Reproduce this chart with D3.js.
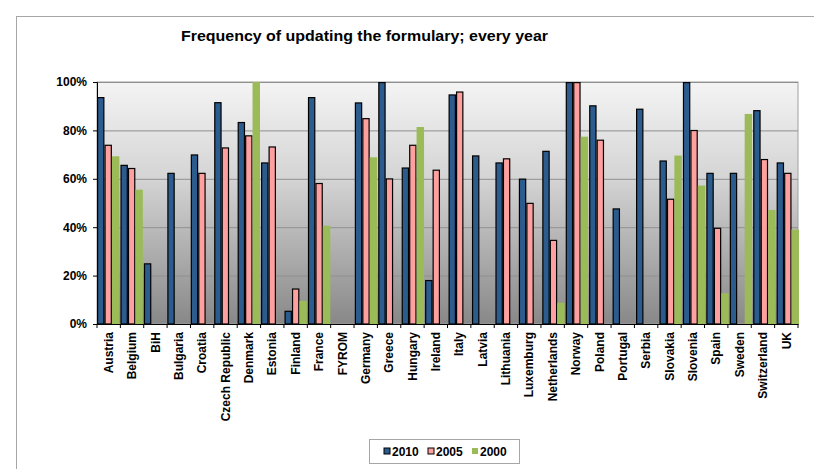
<!DOCTYPE html>
<html><head><meta charset="utf-8">
<script src="https://cdn.jsdelivr.net/npm/d3@7"></script>
<style>
body{margin:0;background:#fff;}
text{font-family:"Liberation Sans",Arial,sans-serif;}
</style></head>
<body><svg id="c" width="814" height="469"></svg>
<script>
const categories = ["Austria","Belgium","BiH","Bulgaria","Croatia","Czech Republic","Denmark","Estonia","Finland","France","FYROM","Germany","Greece","Hungary","Ireland","Italy","Latvia","Lithuania","Luxemburg","Netherlands","Norway","Poland","Portugal","Serbia","Slovakia","Slovenia","Spain","Sweden","Switzerland","UK"];
const v2010 = [93.8,65.8,25.1,62.5,70.1,91.7,83.5,66.8,5.5,93.8,null,91.6,100,64.7,18.2,94.9,69.7,66.8,60.1,71.6,100,90.4,47.8,89.0,67.6,100,62.5,62.5,88.4,66.8];
const v2005 = [74.1,64.5,null,null,62.5,73.0,78.0,73.4,14.7,58.3,null,85.1,60.2,74.1,63.8,96.1,null,68.5,50.1,34.8,100,76.2,null,null,51.8,80.2,39.8,null,68.2,62.5];
const v2000 = [69.3,55.5,null,null,null,null,100,null,9.6,40.6,null,68.9,null,81.4,null,null,null,null,null,8.8,77.4,null,null,null,69.6,57.2,12.7,86.8,47.1,39.0];
const seriesNames = ["2010","2005","2000"];
const yTicks = [0,20,40,60,80,100];
</script>
<script>
const svg = d3.select("#c");
const colors = {"2010":"#2C5B8E","2005":"#FFA0A0","2000":"#9BBB59"};
const seriesVals = {"2010":v2010,"2005":v2005,"2000":v2000};
const L=97, R=798, T=82, B=324;
const FONT = "'Liberation Sans',Arial,sans-serif";

// outer frame
svg.append("rect").attr("x",16.5).attr("y",16.5).attr("width",830).attr("height",480)
  .attr("fill","#fff").attr("stroke","#a6a6a6").attr("stroke-width",1);

svg.append("text").attr("x",181).attr("y",41)
  .attr("font-size","14px").attr("font-weight","bold")
  .attr("textLength",367).attr("lengthAdjust","spacingAndGlyphs")
  .text("Frequency of updating the formulary; every year");

const defs = svg.append("defs");
const g = defs.append("linearGradient").attr("id","bg").attr("x1",0).attr("y1",0).attr("x2",0).attr("y2",1);
g.append("stop").attr("offset","0%").attr("stop-color","#f4f4f4");
g.append("stop").attr("offset","40%").attr("stop-color","#d4d4d4");
g.append("stop").attr("offset","100%").attr("stop-color","#888888");

svg.append("rect").attr("x",L).attr("y",T).attr("width",R-L).attr("height",B-T)
  .attr("fill","url(#bg)").attr("stroke","#a0a0a0");

const x = d3.scaleBand().domain(categories).range([L,R+1]).paddingInner(0.045).paddingOuter(0);
const xCat = d3.scaleBand().domain(categories).range([L,R]);
const xs = d3.scaleBand().domain(seriesNames).range([0,x.bandwidth()]);
const y = d3.scaleLinear().domain([0,100]).range([B,T]);

// gridlines
svg.append("g").selectAll("line").data(yTicks.filter(d=>d>0)).join("line")
  .attr("x1",L).attr("x2",R).attr("y1",d=>y(d)+0.5).attr("y2",d=>y(d)+0.5)
  .attr("stroke","#909090").attr("stroke-width",1);

// bars
seriesNames.forEach(s=>{
  const vals = seriesVals[s];
  const noStroke = s==="2000";
  svg.append("g").selectAll("rect").data(categories.map((c,i)=>({c,v:vals[i]})).filter(d=>d.v!=null)).join("rect")
    .attr("x",d=>x(d.c)+xs(s)+(noStroke?0:0.6))
    .attr("y",d=>y(d.v)+(noStroke?0:0.6))
    .attr("width",xs.bandwidth()-(noStroke?0:1.2))
    .attr("height",d=>B-y(d.v)-(noStroke?0:0.6))
    .attr("fill",colors[s])
    .attr("stroke",noStroke?"none":"#000").attr("stroke-width",1.2);
});

// y axis
const ya = svg.append("g").attr("transform",`translate(${L},0)`)
  .call(d3.axisLeft(y).tickValues(yTicks).tickFormat(d=>d+"%").tickSize(4).tickPadding(6));
ya.select(".domain").attr("stroke","#000");
ya.selectAll("line").attr("stroke","#000");
ya.selectAll("text").attr("font-size","12px").attr("font-weight","bold").attr("fill","#000")
  .style("font-family",FONT);

// x axis
const xa = svg.append("g").attr("transform",`translate(0,${B})`)
  .call(d3.axisBottom(xCat).tickSize(0).tickFormat(d=>d));
xa.select(".domain").attr("stroke","#000");
xa.selectAll(".tick text").attr("font-size","12px").attr("font-weight","bold").attr("fill","#000")
  .style("font-family",FONT)
  .attr("text-anchor","end").attr("transform","rotate(-90)").attr("x",-8).attr("y",0).attr("dy","0.35em");
// boundary ticks
svg.append("g").selectAll("line").data(d3.range(categories.length+1)).join("line")
  .attr("x1",i=>L+i*xCat.step()).attr("x2",i=>L+i*xCat.step())
  .attr("y1",B).attr("y2",B+4).attr("stroke","#000");

// legend
const lg = svg.append("g");
lg.append("rect").attr("x",369.5).attr("y",439.5).attr("width",150).attr("height",24)
  .attr("fill","#fff").attr("stroke","#a6a6a6");
const lx=[384,428,472];
seriesNames.forEach((s,i)=>{
  lg.append("rect").attr("x",lx[i]).attr("y",448).attr("width",6).attr("height",6)
    .attr("fill",colors[s]).attr("stroke",s==="2000"?"none":"#000").attr("stroke-width",1);
  lg.append("text").attr("x",lx[i]+8).attr("y",455.5).attr("font-size","12px").attr("font-weight","bold").text(s);
});
</script>
</body></html>
